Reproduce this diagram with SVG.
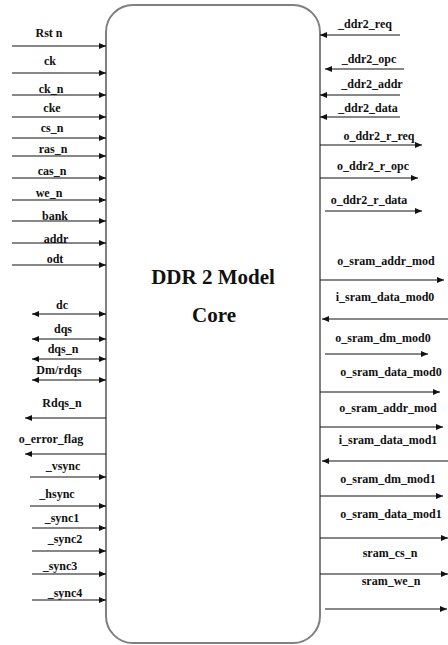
<svg xmlns="http://www.w3.org/2000/svg" width="448" height="645" viewBox="0 0 448 645">
<style>
.lbl{font-family:"Liberation Serif","Times New Roman",serif;font-weight:bold;font-size:12px;fill:#111;text-anchor:middle}
.ttl{font-family:"Liberation Serif","Times New Roman",serif;font-weight:bold;font-size:21px;fill:#111;text-anchor:middle}
.w{stroke:#111;stroke-width:1.2;fill:none;marker-end:url(#ah)}
.b{stroke:#111;stroke-width:1.2;fill:none;marker-end:url(#ah);marker-start:url(#ah)}
</style>
<defs>
<marker id="ah" markerUnits="userSpaceOnUse" markerWidth="8" markerHeight="7" refX="7" refY="3.5" orient="auto-start-reverse"><path d="M0,0.5 L7,3.5 L0,6.5 z" fill="#111"/></marker>
</defs>
<rect width="448" height="645" fill="#fff"/>
<g id="core">
<rect x="106" y="5" width="214" height="638" rx="27" ry="27" fill="#fff" stroke="#808080" stroke-width="2"/>
<text class="ttl" x="213" y="284">DDR 2 Model</text>
<text class="ttl" x="214" y="322">Core</text>
</g>
<g id="connectors">
<line class="w" x1="12" y1="46" x2="106" y2="46"/><text class="lbl" x="49" y="37">Rst  n</text>
<line class="w" x1="12" y1="73" x2="106" y2="73"/><text class="lbl" x="50" y="65">ck</text>
<line class="w" x1="12" y1="95" x2="106" y2="95"/><text class="lbl" x="51" y="93">ck_n</text>
<line class="w" x1="12" y1="117" x2="106" y2="117"/><text class="lbl" x="52" y="112">cke</text>
<line class="w" x1="12" y1="138" x2="106" y2="138"/><text class="lbl" x="52" y="132">cs_n</text>
<line class="w" x1="12" y1="156" x2="106" y2="156"/><text class="lbl" x="53" y="153">ras_n</text>
<line class="w" x1="12" y1="178" x2="106" y2="178"/><text class="lbl" x="52" y="175">cas_n</text>
<line class="w" x1="12" y1="200" x2="106" y2="200"/><text class="lbl" x="49" y="197">we_n</text>
<line class="w" x1="12" y1="221" x2="106" y2="221"/><text class="lbl" x="55" y="220">bank</text>
<line class="w" x1="12" y1="243" x2="106" y2="243"/><text class="lbl" x="56" y="243">addr</text>
<line class="w" x1="12" y1="265" x2="106" y2="265"/><text class="lbl" x="55" y="263">odt</text>
<line class="b" x1="32" y1="314" x2="106" y2="314"/><text class="lbl" x="62" y="309">dc</text>
<line class="b" x1="32" y1="339" x2="106" y2="339"/><text class="lbl" x="63" y="333">dqs</text>
<line class="b" x1="32" y1="359" x2="106" y2="359"/><text class="lbl" x="63" y="353">dqs_n</text>
<line class="b" x1="32" y1="380" x2="106" y2="380"/><text class="lbl" x="59" y="374">Dm/rdqs</text>
<line class="w" x1="106" y1="418" x2="25" y2="418"/><text class="lbl" x="62" y="407">Rdqs_n</text>
<line class="w" x1="106" y1="454" x2="25" y2="454"/><text class="lbl" x="51" y="443">o_error_flag</text>
<line class="w" x1="30" y1="477" x2="106" y2="477"/><text class="lbl" x="63" y="470">_vsync</text>
<line class="w" x1="30" y1="506" x2="106" y2="506"/><text class="lbl" x="57" y="498">_hsync</text>
<line class="w" x1="32" y1="528" x2="106" y2="528"/><text class="lbl" x="62" y="522">_sync1</text>
<line class="w" x1="32" y1="551" x2="106" y2="551"/><text class="lbl" x="65" y="543">_sync2</text>
<line class="w" x1="32" y1="574" x2="106" y2="574"/><text class="lbl" x="60" y="570">_sync3</text>
<line class="w" x1="32" y1="600" x2="106" y2="600"/><text class="lbl" x="65" y="597">_sync4</text>

<line class="w" x1="400" y1="35" x2="320" y2="35"/><text class="lbl" x="365" y="28">_ddr2_req</text>
<line class="w" x1="404" y1="69" x2="325" y2="69"/><text class="lbl" x="369" y="63">_ddr2_opc</text>
<line class="w" x1="400" y1="95" x2="320" y2="95"/><text class="lbl" x="372" y="88">_ddr2_addr</text>
<line class="w" x1="400" y1="117" x2="320" y2="117"/><text class="lbl" x="368" y="112">_ddr2_data</text>
<line class="w" x1="320" y1="145" x2="422" y2="145"/><text class="lbl" x="379" y="140">o_ddr2_r_req</text>
<line class="w" x1="320" y1="178" x2="418" y2="178"/><text class="lbl" x="373" y="170">o_ddr2_r_opc</text>
<line class="w" x1="325" y1="211" x2="422" y2="211"/><text class="lbl" x="369" y="204">o_ddr2_r_data</text>
<line class="w" x1="320" y1="280" x2="444" y2="280"/><text class="lbl" x="386" y="265">o_sram_addr_mod</text>
<line class="w" x1="448" y1="319" x2="322" y2="319"/><text class="lbl" x="385" y="301">i_sram_data_mod0</text>
<line class="w" x1="325" y1="354" x2="428" y2="354"/><text class="lbl" x="383" y="342">o_sram_dm_mod0</text>
<line class="w" x1="320" y1="392" x2="440" y2="392"/><text class="lbl" x="391" y="376">o_sram_data_mod0</text>
<line class="w" x1="320" y1="427" x2="443" y2="427"/><text class="lbl" x="388" y="412">o_sram_addr_mod</text>
<line class="w" x1="448" y1="461" x2="322" y2="461"/><text class="lbl" x="388" y="444">i_sram_data_mod1</text>
<line class="w" x1="320" y1="496" x2="443" y2="496"/><text class="lbl" x="388" y="483">o_sram_dm_mod1</text>
<line class="w" x1="320" y1="538" x2="448" y2="538"/><text class="lbl" x="391" y="518">o_sram_data_mod1</text>
<line class="w" x1="320" y1="574" x2="448" y2="574"/><text class="lbl" x="390" y="557">sram_cs_n</text>
<line class="w" x1="325" y1="609" x2="447" y2="609"/><text class="lbl" x="391" y="585">sram_we_n</text>
</g>
</svg>
